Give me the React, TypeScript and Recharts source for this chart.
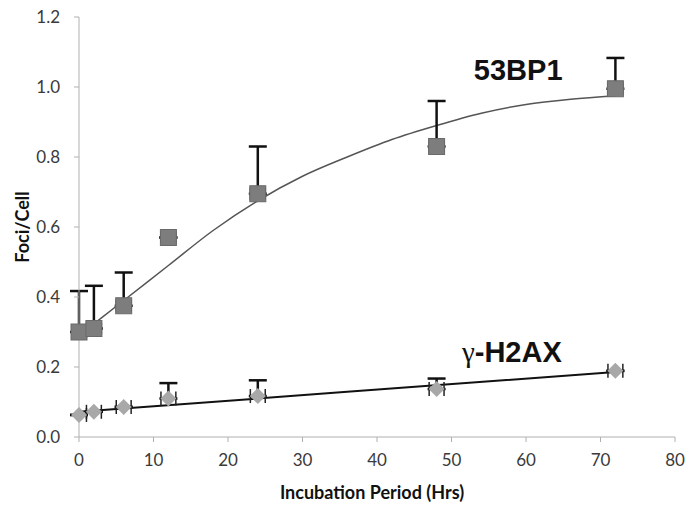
import { ComposedChart, Scatter, Line, XAxis, YAxis, ErrorBar, ReferenceDot } from 'recharts';

// sampling times (hours)
const hours = [0, 2, 6, 12, 24, 48, 72];

// 53BP1 foci per cell, upper error
const bp1Values = [0.3, 0.31, 0.375, 0.57, 0.695, 0.83, 0.995];
const bp1Upper = [0.117, 0.122, 0.095, 0, 0.135, 0.13, 0.088];

// gamma-H2AX foci per cell, upper error
const h2axValues = [0.063, 0.072, 0.086, 0.11, 0.117, 0.137, 0.189];
const h2axUpper = [0, 0, 0, 0.044, 0.045, 0.03, 0];

// small horizontal error on the time points (none below t = 0)
const hourErrLow = [0, 1, 1, 1, 1, 1, 1];
const hourErrHigh = [1, 1, 1, 1, 1, 1, 1];

// fitted curves
const bp1FitHours = [0, 6, 12, 18, 24, 30, 36, 42, 48, 54, 60, 66, 72];
const bp1FitValues = [0.29, 0.39, 0.49, 0.59, 0.675, 0.745, 0.8, 0.85, 0.89, 0.925, 0.95, 0.965, 0.975];
const h2axFitHours = [0, 36, 72];
const h2axFitValues = [0.072, 0.129, 0.186];

const xTicks = [0, 10, 20, 30, 40, 50, 60, 70, 80];
const yTicks = [0, 0.2, 0.4, 0.6, 0.8, 1.0, 1.2];

const bp1Data = hours.map((x, i) => ({
  x,
  y: bp1Values[i],
  yErr: [0, bp1Upper[i]],
  xErr: [hourErrLow[i], hourErrHigh[i]],
}));
const h2axData = hours.map((x, i) => ({
  x,
  y: h2axValues[i],
  yErr: [0, h2axUpper[i]],
  xErr: [hourErrLow[i], hourErrHigh[i]],
}));
const bp1Fit = bp1FitHours.map((x, i) => ({ x, y: bp1FitValues[i] }));
const h2axFit = h2axFitHours.map((x, i) => ({ x, y: h2axFitValues[i] }));

const axisGray = '#b0b0b0';
const tickStyle = { fill: '#3a3a3a', fontSize: 17, fontFamily: 'Lato' };
const titleStyle = { fontFamily: 'Lato', fontWeight: 'bold', fontSize: 18, fill: '#111' };

const Square = (p: any) => (
  <rect x={p.cx - 8} y={p.cy - 8} width={16} height={16} fill="#7d7d7d" stroke="#6a6a6a" strokeWidth={1} />
);

const Diamond = (p: any) => (
  <polygon
    points={`${p.cx},${p.cy - 8} ${p.cx + 8},${p.cy} ${p.cx},${p.cy + 8} ${p.cx - 8},${p.cy}`}
    fill="#a8a8a8"
  />
);

const NoMark = () => null;

const SeriesLabel = ({ viewBox, children }: any) => (
  <text x={viewBox.x} y={viewBox.y} fontFamily="Liberation Sans" fontWeight="bold" fontSize={29} fill="#111">
    {children}
  </text>
);

export default function App() {
  return (
    <div style={{ position: 'absolute', left: 0, top: 0, background: '#fff' }}>
      <ComposedChart width={685} height={509} margin={{ top: 17, right: 10, left: 19, bottom: 42 }}>
        <XAxis
          type="number"
          dataKey="x"
          domain={[0, 80]}
          ticks={xTicks}
          stroke={axisGray}
          tickSize={5}
          tick={tickStyle}
          tickMargin={12}
          height={30}
          label={{ value: 'Incubation Period (Hrs)', position: 'insideBottom', offset: -32, dx: -5, style: titleStyle }}
        />
        <YAxis
          type="number"
          dataKey="y"
          domain={[0, 1.2]}
          ticks={yTicks}
          width={60}
          stroke={axisGray}
          tickSize={5}
          tick={tickStyle}
          tickMargin={14}
          tickFormatter={(v: number) => v.toFixed(1)}
          label={{
            value: 'Foci/Cell',
            angle: -90,
            position: 'insideLeft',
            offset: 0,
            dx: 4,
            style: { ...titleStyle, textAnchor: 'middle' },
          }}
        />
        <Line data={bp1Fit} dataKey="y" type="monotone" stroke="#555" strokeWidth={1.5} dot={false} isAnimationActive={false} />
        <Line data={h2axFit} dataKey="y" type="linear" stroke="#111" strokeWidth={2} dot={false} isAnimationActive={false} />
        {/* error bars first, markers drawn over them */}
        <Scatter data={bp1Data} dataKey="y" shape={NoMark} isAnimationActive={false}>
          <ErrorBar dataKey="yErr" direction="y" width={9} stroke="#111" strokeWidth={2.5} />
          <ErrorBar dataKey="xErr" direction="x" width={6} stroke="#222" strokeWidth={1.5} />
        </Scatter>
        <Scatter data={h2axData} dataKey="y" shape={NoMark} isAnimationActive={false}>
          <ErrorBar dataKey="yErr" direction="y" width={9} stroke="#111" strokeWidth={2.5} />
          <ErrorBar dataKey="xErr" direction="x" width={7} stroke="#222" strokeWidth={1.5} />
        </Scatter>
        <Scatter data={bp1Data} dataKey="y" shape={Square} isAnimationActive={false} />
        <Scatter data={h2axData} dataKey="y" shape={Diamond} isAnimationActive={false} />
        <ReferenceDot x={53} y={1.02} r={0} ifOverflow="visible" label={(props: any) => <SeriesLabel {...props}>53BP1</SeriesLabel>} />
        <ReferenceDot
          x={51.4}
          y={0.214}
          r={0}
          ifOverflow="visible"
          label={(props: any) => (
            <SeriesLabel {...props}>
              <tspan fontFamily="Liberation Serif" fontWeight="normal">γ</tspan>-H2AX
            </SeriesLabel>
          )}
        />
      </ComposedChart>
    </div>
  );
}
